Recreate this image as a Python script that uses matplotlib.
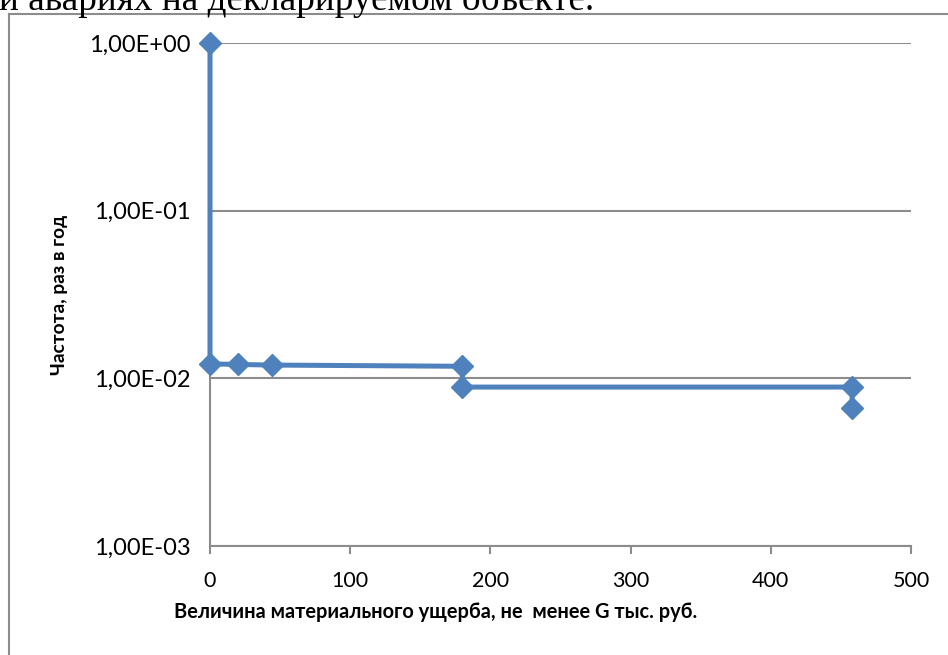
import matplotlib
matplotlib.use("Agg")
import matplotlib.pyplot as plt
from matplotlib.lines import Line2D
from matplotlib.ticker import FixedLocator, FixedFormatter

# step curve F(G): damage (thous. rub) vs frequency (1/year)
damage = [0, 0, 20, 44, 180, 180, 458, 458]
freq = [1.0, 0.0122, 0.0121, 0.0120, 0.0118, 0.00887, 0.00887, 0.00662]

y_ticks = [1e-3, 1e-2, 1e-1, 1e0]
y_labels = ["1,00E-03", "1,00E-02", "1,00E-01", "1,00E+00"]
x_ticks = [0, 100, 200, 300, 400, 500]

W, H = 948, 655
fig = plt.figure(figsize=(W / 100, H / 100), dpi=100)

# chart area frame (cut by the screenshot on right/bottom)
fig.add_artist(Line2D([9 / W, 1.0], [1 - 14 / H, 1 - 14 / H], color="#8c8c8c", lw=1.5))
fig.add_artist(Line2D([9 / W, 9 / W], [0, 1 - 14 / H], color="#8c8c8c", lw=1.5))

# caption text from the document, partly cut off at the top
fig.text(-1 / W, 1 - 10 / H, "и авариях на декларируемом объекте.",
         family="Liberation Serif", fontsize=26.8, color="black", va="baseline")

left, right, top, bottom = 210, 911, 43, 546
ax = fig.add_axes([left / W, 1 - bottom / H, (right - left) / W, (bottom - top) / H])
ax.set_yscale("log")
ax.set_ylim(1e-3, 1e0)
ax.set_xlim(0, 500)

ax.plot(damage, freq, color="#4F81BD", lw=3.6, marker="D", markersize=11,
        markerfacecolor="#4F81BD", markeredgecolor="#4F81BD", zorder=3, clip_on=False)

ax.yaxis.set_major_locator(FixedLocator(y_ticks))
ax.yaxis.set_major_formatter(FixedFormatter(y_labels))
ax.yaxis.set_minor_locator(FixedLocator([]))
ax.set_xticks(x_ticks)
ax.grid(axis="y", color="#8c8c8c", lw=1.5)
ax.set_axisbelow(True)

for s in ["top", "right"]:
    ax.spines[s].set_visible(False)
for s in ["left", "bottom"]:
    ax.spines[s].set_color("#8c8c8c")
    ax.spines[s].set_linewidth(1.5)

ax.tick_params(axis="y", length=0, pad=14, labelsize=17)
ax.tick_params(axis="x", length=6, width=1.5, color="#8c8c8c", pad=12, labelsize=15.5)
for lab in ax.get_xticklabels() + ax.get_yticklabels():
    lab.set_family("Lato")

ax.set_xlabel("Величина материального ущерба, не  менее G тыс. руб.",
              family="Lato", fontweight="bold", fontsize=14.4)
ax.set_ylabel("Частота, раз в год", family="Lato", fontweight="bold", fontsize=13.8)
ax.xaxis.set_label_coords((436 - left) / (right - left), -(612 - bottom) / (bottom - top))
ax.yaxis.set_label_coords(-(left - 60) / (right - left), (bottom - 295) / (bottom - top))
ax.xaxis.label.set_va("center")
ax.yaxis.label.set_va("center")

fig.savefig("out.png", dpi=100)
